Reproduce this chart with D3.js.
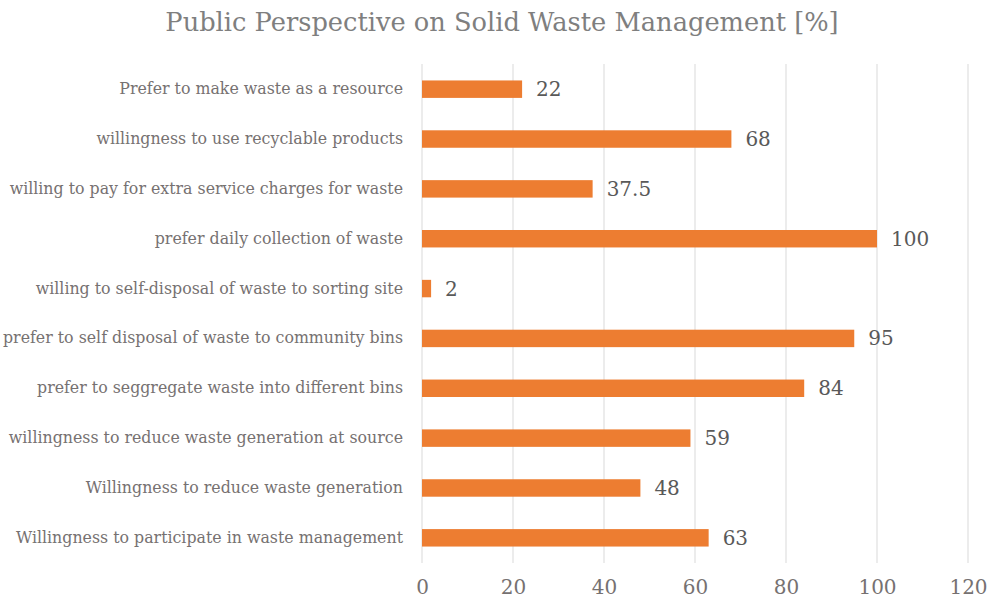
<!DOCTYPE html>
<html>
<head>
<meta charset="utf-8">
<script src="https://cdn.jsdelivr.net/npm/d3@7"></script>
<style>
  body { margin: 0; background: #fff; }
  svg { display: block; font-family: "DejaVu Serif", serif; }
</style>
</head>
<body>
<svg id="chart" width="999" height="599"></svg>
<script>
// top to bottom, as drawn
const categories = [
    "Prefer to make waste as a resource",
    "willingness to use recyclable products",
    "willing to pay for extra service charges for waste",
    "prefer daily collection of waste",
    "willing to self-disposal of waste to sorting site",
    "prefer to self disposal of waste to community bins",
    "prefer to seggregate waste into different bins",
    "willingness to reduce waste generation at source",
    "Willingness to reduce waste generation",
    "Willingness to participate in waste management"
];
const values = [22, 68, 37.5, 100, 2, 95, 84, 59, 48, 63];
const xTicks = [0, 20, 40, 60, 80, 100, 120];
const title = "Public Perspective on Solid Waste Management [%]";

const svg = d3.select("#chart");
const margin = { top: 64, right: 31, bottom: 36, left: 422 };
const width = 999, height = 599;

const x = d3.scaleLinear()
    .domain([0, 120])
    .range([margin.left, width - margin.right]);

const y = d3.scaleBand()
    .domain(categories)
    .range([margin.top, height - margin.bottom])
    .paddingInner(0.65)
    .paddingOuter(0.33);

// gridlines
svg.append("g")
    .selectAll("line")
    .data(xTicks)
    .join("line")
    .attr("x1", d => x(d))
    .attr("x2", d => x(d))
    .attr("y1", margin.top)
    .attr("y2", height - margin.bottom)
    .attr("stroke", "#d9d9d9")
    .attr("stroke-width", 1);

// bars
svg.append("g")
    .selectAll("rect")
    .data(values)
    .join("rect")
    .attr("x", x(0))
    .attr("y", (d, i) => y(categories[i]))
    .attr("width", d => x(d) - x(0))
    .attr("height", y.bandwidth())
    .attr("fill", "#ed7d31");

// value labels
svg.append("g")
    .selectAll("text")
    .data(values)
    .join("text")
    .attr("x", d => x(d) + 14)
    .attr("y", (d, i) => y(categories[i]) + y.bandwidth() / 2)
    .attr("dy", "0.35em")
    .attr("font-size", 20)
    .attr("fill", "#595959")
    .text(d => d);

// category axis
const yAxis = svg.append("g")
    .attr("transform", `translate(${margin.left - 19}, 0)`)
    .call(d3.axisLeft(y).tickSize(0).tickPadding(0));
yAxis.select(".domain").remove();
yAxis.selectAll("text")
    .attr("font-family", "DejaVu Serif, serif")
    .attr("font-size", 15.8)
    .attr("fill", "#767171");

// value axis
const xAxis = svg.append("g")
    .attr("transform", `translate(0, ${height - margin.bottom})`)
    .call(d3.axisBottom(x).tickValues(xTicks).tickSize(0).tickPadding(17));
xAxis.select(".domain").remove();
xAxis.selectAll("text")
    .attr("font-family", "DejaVu Serif, serif")
    .attr("font-size", 20)
    .attr("fill", "#767171");

svg.append("text")
    .attr("x", 502)
    .attr("y", 31)
    .attr("text-anchor", "middle")
    .attr("font-size", 25.7)
    .attr("fill", "#7f7f7f")
    .text(title);
</script>
</body>
</html>
